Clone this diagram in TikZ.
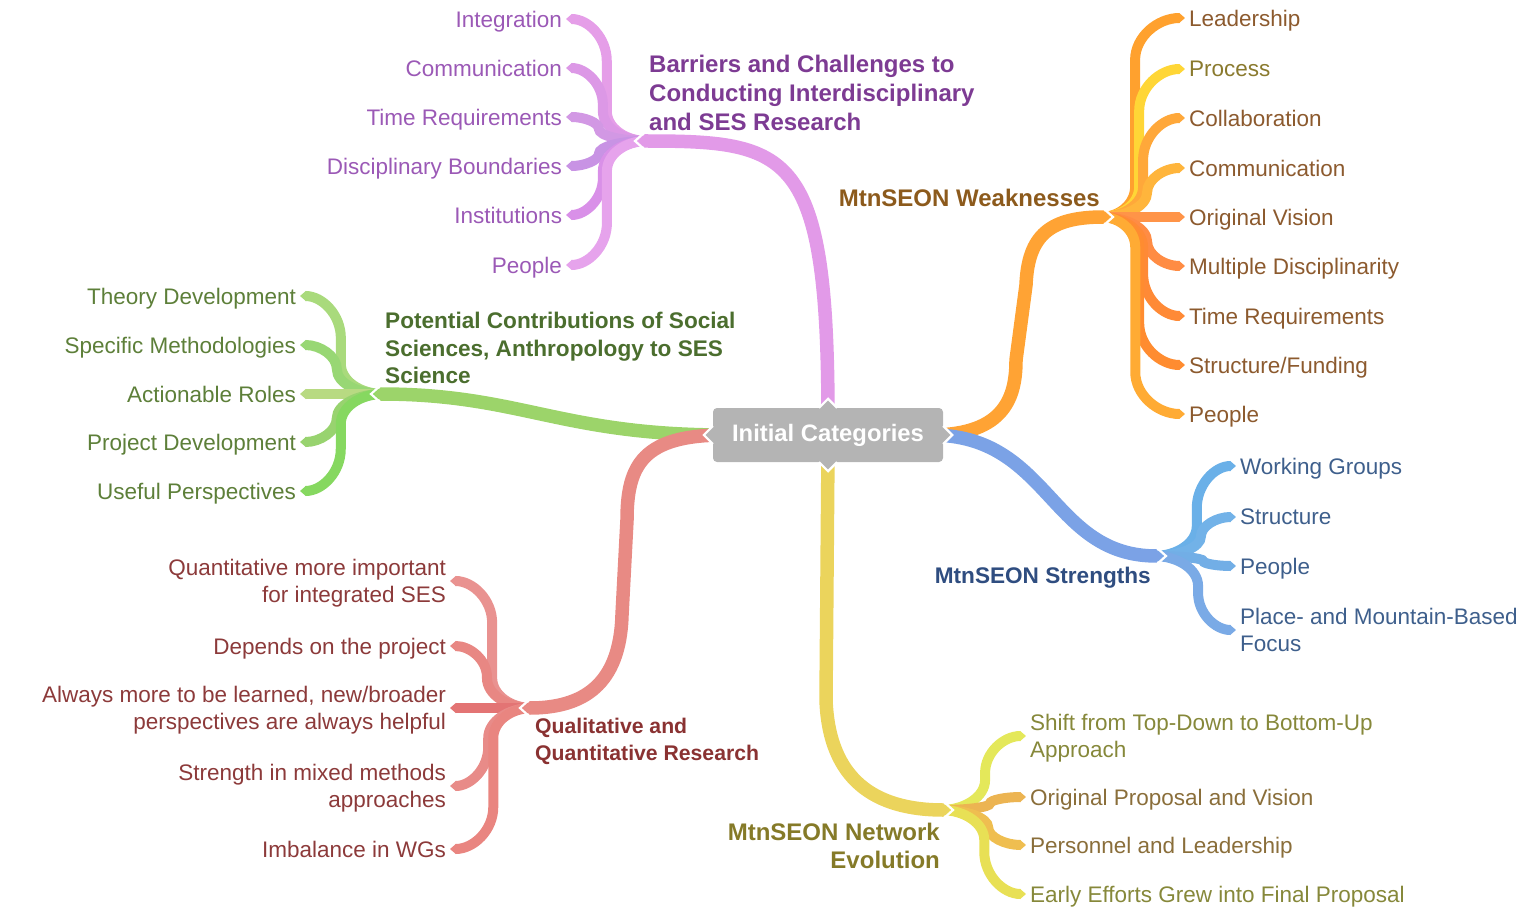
\documentclass[tikz,border=0pt]{standalone}
\usepackage{fontspec}
\setmainfont{Liberation Sans}
\usetikzlibrary{arrows.meta}

% branch colours
\definecolor{boxgray}{HTML}{B4B4B4}
\definecolor{pMain}{HTML}{E29AE8}
\definecolor{pA}{HTML}{E59EE8}
\definecolor{pB}{HTML}{DC98E6}
\definecolor{pC}{HTML}{D298E4}
\definecolor{pD}{HTML}{C893E4}
\definecolor{pE}{HTML}{D990E8}
\definecolor{pF}{HTML}{E6A3EC}
\definecolor{pText}{HTML}{9B59B6}
\definecolor{pTitle}{HTML}{7D3B93}
\definecolor{gMain}{HTML}{9CD46A}
\definecolor{gA}{HTML}{A9DA7C}
\definecolor{gB}{HTML}{98D774}
\definecolor{gC}{HTML}{B8DA82}
\definecolor{gD}{HTML}{98D36F}
\definecolor{gE}{HTML}{86D860}
\definecolor{gText}{HTML}{5D7F39}
\definecolor{gTitle}{HTML}{4B6E2E}
\definecolor{oMain}{HTML}{FFA334}
\definecolor{oA}{HTML}{FFA12E}
\definecolor{oB}{HTML}{FFD636}
\definecolor{oC}{HTML}{FFA83A}
\definecolor{oD}{HTML}{FFB53C}
\definecolor{oE}{HTML}{FF9448}
\definecolor{oF}{HTML}{FF8C44}
\definecolor{oG}{HTML}{FF8A36}
\definecolor{oH}{HTML}{FF8C30}
\definecolor{oI}{HTML}{FFAB34}
\definecolor{oText}{HTML}{8C5A2E}
\definecolor{oTextB}{HTML}{8A7A2E}
\definecolor{oTitle}{HTML}{8C5A1C}
\definecolor{bMain}{HTML}{7BA2E6}
\definecolor{bA}{HTML}{6AB0E8}
\definecolor{bB}{HTML}{72B2E8}
\definecolor{bC}{HTML}{72AEE6}
\definecolor{bD}{HTML}{7AAAE6}
\definecolor{bText}{HTML}{3E5F8C}
\definecolor{bTitle}{HTML}{2F4D80}
\definecolor{rMain}{HTML}{E88A84}
\definecolor{rA}{HTML}{E99290}
\definecolor{rB}{HTML}{E88783}
\definecolor{rC}{HTML}{E37474}
\definecolor{rD}{HTML}{E88B88}
\definecolor{rE}{HTML}{E98580}
\definecolor{rText}{HTML}{8C3A3A}
\definecolor{rTitle}{HTML}{8A3232}
\definecolor{yMain}{HTML}{EBD45C}
\definecolor{yA}{HTML}{E4E85A}
\definecolor{yB}{HTML}{ECB452}
\definecolor{yC}{HTML}{EFBE50}
\definecolor{yD}{HTML}{E8E055}
\definecolor{yText}{HTML}{86883A}
\definecolor{yTextB}{HTML}{8A6E3A}
\definecolor{yTitle}{HTML}{857A28}

\pgfdeclarelayer{bg}
\pgfsetlayers{bg,main}

\tikzset{
  rootbox/.style={rectangle, rounded corners=4pt, fill=boxgray, text=white,
    minimum width=230pt, minimum height=54pt, inner sep=0pt,
    font=\bfseries\fontsize{23.8}{28}\selectfont},
  tab/.style={fill=boxgray, draw=white, line width=2.2pt, line join=miter},
  branch/.style={draw=#1, line width=13.5pt, -{Triangle[length=7pt,width=0pt 1]}},
  twig/.style={draw=#1, line width=10pt, -{Triangle[length=6pt,width=0pt 1]}},
  notch/.style={draw=white, line width=2.2pt, line join=miter},
  leafL/.style={anchor=east, align=right, inner xsep=4pt, inner ysep=0pt, outer sep=0pt,
    text depth=0pt, font=\fontsize{22.5}{27.5}\selectfont},
  leafR/.style={anchor=west, align=left, inner xsep=4pt, inner ysep=0pt, outer sep=0pt,
    text depth=0pt, font=\fontsize{22.5}{27.5}\selectfont},
  title/.style={inner sep=0pt, font=\bfseries\fontsize{24}{28.7}\selectfont}
}

% bend sizes of a twig: #1 = vertical offset, #2 = horizontal span
\newcommand\twigbends[2]{%
  \pgfmathsetmacro\dy{#1}%
  \pgfmathsetmacro\sg{\dy/max(abs(\dy),0.01)}%
  \pgfmathsetmacro\ra{min(abs(\dy)/2,30)*\sg}%
  \pgfmathsetmacro\rb{min(abs(\dy)/2,42)*\sg}%
  \pgfmathsetmacro\da{50-0.08*abs(\dy)}%
  \pgfmathsetmacro\db{#2-\da}%
  \pgfmathsetmacro\ca{0.55*\da}%
  \pgfmathsetmacro\cb{0.55*\db}%
  \pgfmathsetmacro\qa{0.55*\ra}%
  \pgfmathsetmacro\qb{0.55*\rb}}

\begin{document}
\begin{tikzpicture}[x=1pt,y=-1pt]
\useasboundingbox (0,0) rectangle (1533,909);

% central topic with its four tabs
\node[rootbox] (init) at (828,435) {Initial Categories};
\filldraw[tab] ([shift={(-9,0)}]init.north) -- ([shift={(0,-9)}]init.north) -- ([shift={(9,0)}]init.north);
\filldraw[tab] ([shift={(-9,0)}]init.south) -- ([shift={(0,9)}]init.south) -- ([shift={(9,0)}]init.south);
\filldraw[tab] ([shift={(0,-9)}]init.west) -- ([shift={(-9,0)}]init.west) -- ([shift={(0,9)}]init.west);
\filldraw[tab] ([shift={(0,-9)}]init.east) -- ([shift={(9,0)}]init.east) -- ([shift={(0,9)}]init.east);

% barriers
\coordinate (bj) at (638,141);
\coordinate (bs) at (647,141);
\foreach \k/\y/\col/\txt in {1/19/pA/Integration, 2/68/pB/Communication, 3/117/pC/Time Requirements,
    4/166/pD/Disciplinary Boundaries, 5/215/pE/Institutions, 6/265/pF/People}{
  \node[leafL, text=pText] (b\k) at (566,\y) {\txt};
  \twigbends{\y-141}{81}
  \begin{pgfonlayer}{bg}
    \draw[twig=\col] (bs) .. controls +(-\ca,0) and +(0,-\qa) .. ([shift={(-\da,\ra)}]bs)
      -- ([shift={(\db,-\rb)}]b\k.east) .. controls +(0,\qb) and +(\cb,0) .. (b\k.east);
  \end{pgfonlayer}
}
\begin{pgfonlayer}{bg}
  \draw[branch=pMain] ([shift={(0,12)}]init.north) .. controls +(0,-270) and +(152,0) .. (bj);
  \draw[notch] ([shift={(7,-9)}]bj) -- ([shift={(-3,0)}]bj) -- ([shift={(7,9)}]bj);
\end{pgfonlayer}
\node[title, anchor=west, align=left, text=pTitle] (btitle) at (649,93)
  {Barriers and Challenges to\\Conducting Interdisciplinary\\and SES Research};

% social sciences
\coordinate (gj) at (374,394);
\coordinate (gs) at (383,394);
\foreach \k/\y/\col/\txt in {1/296/gA/Theory Development, 2/345/gB/Specific Methodologies,
    3/394/gC/Actionable Roles, 4/442/gD/Project Development, 5/491/gE/Useful Perspectives}{
  \node[leafL, text=gText] (s\k) at (300,\y) {\txt};
  \twigbends{\y-394}{83}
  \begin{pgfonlayer}{bg}
    \draw[twig=\col] (gs) .. controls +(-\ca,0) and +(0,-\qa) .. ([shift={(-\da,\ra)}]gs)
      -- ([shift={(\db,-\rb)}]s\k.east) .. controls +(0,\qb) and +(\cb,0) .. (s\k.east);
  \end{pgfonlayer}
}
\begin{pgfonlayer}{bg}
  \draw[branch=gMain] ([shift={(12,0)}]init.west) .. controls +(-165,0) and +(146,0) .. (gj);
  \draw[notch] ([shift={(7,-9)}]gj) -- ([shift={(-3,0)}]gj) -- ([shift={(7,9)}]gj);
\end{pgfonlayer}
\node[title, anchor=west, align=left, text=gTitle, font=\bfseries\fontsize{22.6}{27.5}\selectfont] (stitle) at (385,348)
  {Potential Contributions of Social\\Sciences, Anthropology to SES\\Science};

% qualitative / quantitative
\coordinate (rj) at (523,708);
\coordinate (rs) at (532,708);
\foreach \k/\y/\col/\txt in {1/581/rA/{Quantitative more important\\for integrated SES}, 2/646/rB/Depends on the project,
    3/708/rC/{Always more to be learned, new/broader\\perspectives are always helpful},
    4/786/rD/{Strength in mixed methods\\approaches}, 5/849/rE/Imbalance in WGs}{
  \node[leafL, text=rText] (q\k) at (450,\y) {\txt};
  \twigbends{\y-708}{82}
  \begin{pgfonlayer}{bg}
    \draw[twig=\col] (rs) .. controls +(-\ca,0) and +(0,-\qa) .. ([shift={(-\da,\ra)}]rs)
      -- ([shift={(\db,-\rb)}]q\k.east) .. controls +(0,\qb) and +(\cb,0) .. (q\k.east);
  \end{pgfonlayer}
}
\begin{pgfonlayer}{bg}
  \draw[branch=rMain] ([shift={(12,0)}]init.west) .. controls +(-82,0) and +(0,-55) .. ([shift={(104,-188)}]rj)
    -- ([shift={(99,-93)}]rj) .. controls +(-2,70) and +(60,0) .. (rj);
  \draw[notch] ([shift={(7,-9)}]rj) -- ([shift={(-3,0)}]rj) -- ([shift={(7,9)}]rj);
\end{pgfonlayer}
\node[title, anchor=west, align=left, text=rTitle, font=\bfseries\fontsize{21.2}{27}\selectfont] (qtitle) at (535,741)
  {Qualitative and\\Quantitative Research};

% weaknesses
\coordinate (oj) at (1110,217);
\coordinate (os) at (1101,217);
\foreach \k/\y/\col/\tc/\txt in {1/18/oA/oText/Leadership, 2/69/oB/oTextB/Process, 3/118/oC/oText/Collaboration,
    4/168/oD/oText/Communication, 5/217/oE/oText/Original Vision, 6/266/oF/oText/Multiple Disciplinarity,
    7/316/oG/oText/Time Requirements, 8/365/oH/oText/{Structure/Funding}, 9/414/oI/oText/People}{
  \node[leafR, text=\tc] (w\k) at (1185,\y) {\txt};
  \twigbends{\y-217}{84}
  \begin{pgfonlayer}{bg}
    \draw[twig=\col] (os) .. controls +(\ca,0) and +(0,-\qa) .. ([shift={(\da,\ra)}]os)
      -- ([shift={(-\db,-\rb)}]w\k.west) .. controls +(0,\qb) and +(-\cb,0) .. (w\k.west);
  \end{pgfonlayer}
}
\begin{pgfonlayer}{bg}
  \draw[branch=oMain] ([shift={(-12,0)}]init.east) .. controls +(75,0) and +(0,35) .. ([shift={(-94,143)}]oj)
    -- ([shift={(-84,68)}]oj) .. controls +(2,-50) and +(-60,0) .. (oj);
  \draw[notch] ([shift={(-7,-9)}]oj) -- ([shift={(3,0)}]oj) -- ([shift={(-7,9)}]oj);
\end{pgfonlayer}
\node[title, anchor=east, text=oTitle] (wtitle) at (1100,198) {MtnSEON Weaknesses};

% strengths
\coordinate (sj) at (1163,556);
\coordinate (ss) at (1154,556);
\foreach \k/\y/\col/\txt in {1/466/bA/Working Groups, 2/517/bB/Structure, 3/566/bC/People,
    4/630/bD/{Place- and Mountain-Based\\Focus}}{
  \node[leafR, text=bText] (t\k) at (1236,\y) {\txt};
  \twigbends{\y-556}{82}
  \begin{pgfonlayer}{bg}
    \draw[twig=\col] (ss) .. controls +(\ca,0) and +(0,-\qa) .. ([shift={(\da,\ra)}]ss)
      -- ([shift={(-\db,-\rb)}]t\k.west) .. controls +(0,\qb) and +(-\cb,0) .. (t\k.west);
  \end{pgfonlayer}
}
\begin{pgfonlayer}{bg}
  \draw[branch=bMain] ([shift={(-12,0)}]init.east) .. controls +(119,0) and +(-113,0) .. (sj);
  \draw[notch] ([shift={(-7,-9)}]sj) -- ([shift={(3,0)}]sj) -- ([shift={(-7,9)}]sj);
\end{pgfonlayer}
\node[title, anchor=east, text=bTitle, font=\bfseries\fontsize{22.6}{27.5}\selectfont] (ttitle) at (1151,578) {MtnSEON Strengths};

% network evolution
\coordinate (yj) at (950,810);
\coordinate (ys) at (941,810);
\foreach \k/\y/\col/\tc/\txt in {1/736/yA/yText/{Shift from Top-Down to Bottom-Up\\Approach},
    2/797/yB/yTextB/Original Proposal and Vision, 3/845/yC/yTextB/Personnel and Leadership,
    4/894/yD/yText/Early Efforts Grew into Final Proposal}{
  \node[leafR, text=\tc] (e\k) at (1026,\y) {\txt};
  \twigbends{\y-810}{85}
  \begin{pgfonlayer}{bg}
    \draw[twig=\col] (ys) .. controls +(\ca,0) and +(0,-\qa) .. ([shift={(\da,\ra)}]ys)
      -- ([shift={(-\db,-\rb)}]e\k.west) .. controls +(0,\qb) and +(-\cb,0) .. (e\k.west);
  \end{pgfonlayer}
}
\begin{pgfonlayer}{bg}
  \draw[branch=yMain] ([shift={(0,-12)}]init.south) -- ([shift={(-124,-110)}]yj)
    .. controls +(3,80) and +(-75,0) .. (yj);
  \draw[notch] ([shift={(-7,-9)}]yj) -- ([shift={(3,0)}]yj) -- ([shift={(-7,9)}]yj);
\end{pgfonlayer}
\node[title, anchor=east, align=right, text=yTitle] (etitle) at (940,846) {MtnSEON Network\\Evolution};

\end{tikzpicture}
\end{document}
